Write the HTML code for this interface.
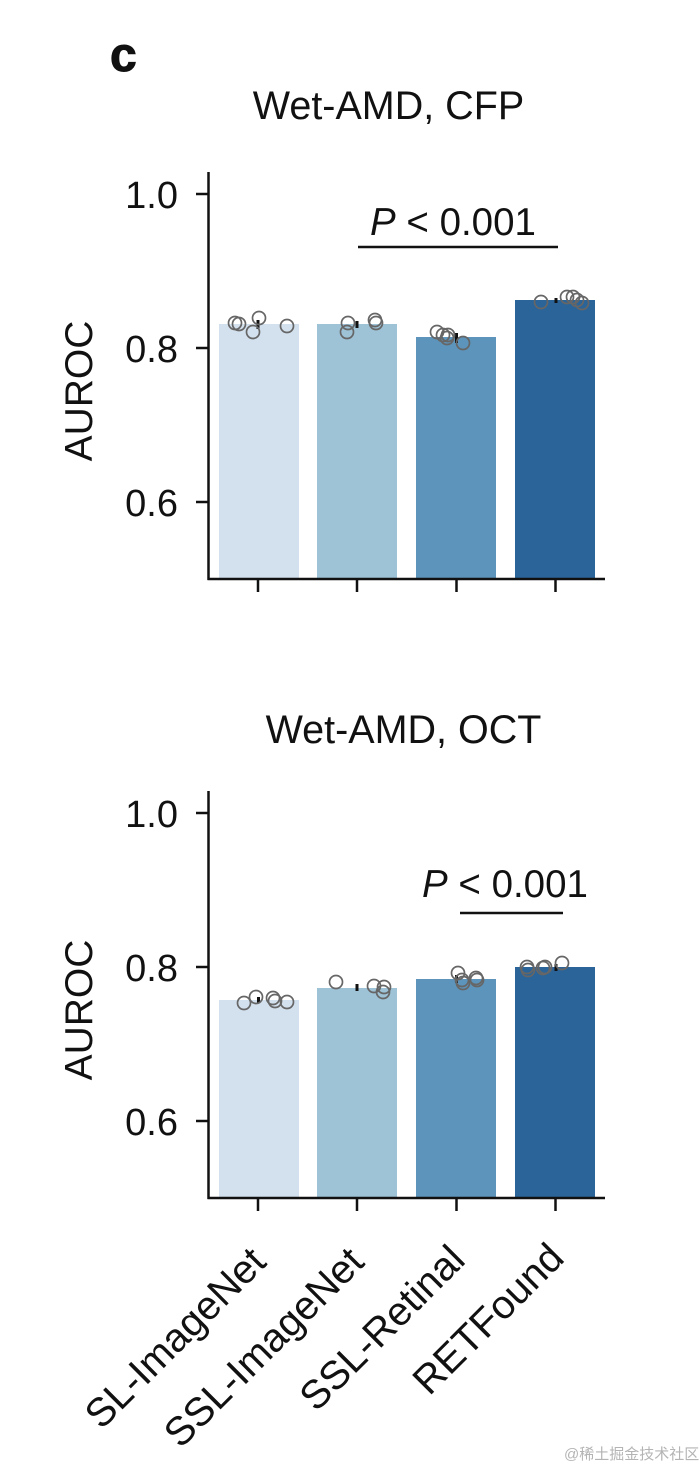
<!DOCTYPE html>
<html><head><meta charset="utf-8"><style>
html,body{margin:0;padding:0;background:#fff;}
svg{display:block;}
text{font-family:"Liberation Sans",Arial,sans-serif;fill:#111;}
</style></head><body>
<svg width="700" height="1465" viewBox="0 0 700 1465" xmlns="http://www.w3.org/2000/svg">
<rect width="700" height="1465" fill="#fff"/>
<text x="110" y="71" font-size="48" font-weight="900" style="font-weight:900;stroke:#111;stroke-width:1">c</text>

<!-- TOP CHART -->
<text x="388.5" y="119" font-size="39.5" text-anchor="middle">Wet-AMD, CFP</text>
<g fill="none">
<rect x="219" y="324" width="80" height="255" fill="#d3e1ee"/>
<rect x="317" y="324" width="80" height="255" fill="#9ec2d6"/>
<rect x="416" y="337" width="80" height="242" fill="#5d94bb"/>
<rect x="515" y="300" width="80" height="279" fill="#2a6498"/>
</g>
<g stroke="#111" stroke-width="2.5" fill="none">
<line x1="208.5" y1="172" x2="208.5" y2="580"/>
<line x1="207.5" y1="579" x2="605" y2="579"/>
<line x1="196" y1="194" x2="208" y2="194"/>
<line x1="196" y1="348" x2="208" y2="348"/>
<line x1="196" y1="502" x2="208" y2="502"/>
<line x1="258" y1="579" x2="258" y2="592"/>
<line x1="357" y1="579" x2="357" y2="592"/>
<line x1="456.5" y1="579" x2="456.5" y2="592"/>
<line x1="555.5" y1="579" x2="555.5" y2="592"/>
<line x1="358" y1="247" x2="558" y2="247"/>
</g>
<g font-size="38" text-anchor="end">
<text x="178" y="208">1.0</text>
<text x="178" y="362">0.8</text>
<text x="178" y="516">0.6</text>
</g>
<text transform="translate(92,391) rotate(-90)" font-size="39" text-anchor="middle">AUROC</text>
<text x="370" y="235" font-size="38.5"><tspan font-style="italic">P</tspan> &lt; 0.001</text>
<g fill="#111">
<rect x="256.5" y="320" width="3" height="9"/>
<rect x="355.5" y="321" width="3" height="7"/>
<rect x="455" y="333" width="3" height="10"/>
<rect x="554.5" y="298" width="3" height="5"/>
</g>
<g fill="none" stroke="#666" stroke-width="1.7">
<circle cx="235" cy="323" r="6.5"/><circle cx="239" cy="324" r="6.5"/><circle cx="253" cy="332" r="6.5"/><circle cx="259" cy="318" r="6.5"/><circle cx="287" cy="326" r="6.5"/>
<circle cx="348" cy="323" r="6.5"/><circle cx="347" cy="332" r="6.5"/><circle cx="375" cy="320" r="6.5"/><circle cx="376" cy="323" r="6.5"/>
<circle cx="437" cy="332" r="6.5"/><circle cx="443" cy="335" r="6.5"/><circle cx="447" cy="338" r="6.5"/><circle cx="448" cy="335" r="6.5"/><circle cx="463" cy="343" r="6.5"/>
<circle cx="541" cy="302" r="6.5"/><circle cx="567" cy="297" r="6.5"/><circle cx="573" cy="297" r="6.5"/><circle cx="577" cy="300" r="6.5"/><circle cx="582" cy="303" r="6.5"/>
</g>

<!-- BOTTOM CHART -->
<text x="403.5" y="743" font-size="39.5" text-anchor="middle">Wet-AMD, OCT</text>
<g>
<rect x="219" y="1000" width="80" height="198" fill="#d3e1ee"/>
<rect x="317" y="988" width="80" height="210" fill="#9ec2d6"/>
<rect x="416" y="979" width="80" height="219" fill="#5d94bb"/>
<rect x="515" y="967" width="80" height="231" fill="#2a6498"/>
</g>
<g stroke="#111" stroke-width="2.5" fill="none">
<line x1="208.5" y1="791" x2="208.5" y2="1199"/>
<line x1="207.5" y1="1198" x2="605" y2="1198"/>
<line x1="196" y1="813" x2="208" y2="813"/>
<line x1="196" y1="967" x2="208" y2="967"/>
<line x1="196" y1="1121" x2="208" y2="1121"/>
<line x1="258" y1="1198" x2="258" y2="1211"/>
<line x1="357" y1="1198" x2="357" y2="1211"/>
<line x1="456.5" y1="1198" x2="456.5" y2="1211"/>
<line x1="555.5" y1="1198" x2="555.5" y2="1211"/>
<line x1="460" y1="913" x2="563" y2="913"/>
</g>
<g font-size="38" text-anchor="end">
<text x="178" y="827">1.0</text>
<text x="178" y="981">0.8</text>
<text x="178" y="1135">0.6</text>
</g>
<text transform="translate(92,1010) rotate(-90)" font-size="39" text-anchor="middle">AUROC</text>
<text x="422" y="897" font-size="38.5"><tspan font-style="italic">P</tspan> &lt; 0.001</text>
<g fill="#111">
<rect x="257" y="997" width="3" height="6"/>
<rect x="355.5" y="984" width="3" height="7"/>
<rect x="455" y="975" width="3" height="8"/>
<rect x="554.5" y="964" width="3" height="7"/>
</g>
<g fill="none" stroke="#666" stroke-width="1.7">
<circle cx="244" cy="1003" r="6.5"/><circle cx="256" cy="997" r="6.5"/><circle cx="273" cy="998" r="6.5"/><circle cx="275" cy="1001" r="6.5"/><circle cx="287" cy="1002" r="6.5"/>
<circle cx="336" cy="982" r="6.5"/><circle cx="374" cy="986" r="6.5"/><circle cx="384" cy="987" r="6.5"/><circle cx="383" cy="992" r="6.5"/>
<circle cx="458" cy="973" r="6.5"/><circle cx="462" cy="980" r="6.5"/><circle cx="463" cy="983" r="6.5"/><circle cx="476" cy="978" r="6.5"/><circle cx="477" cy="980" r="6.5"/>
<circle cx="527" cy="967" r="6.5"/><circle cx="528" cy="970" r="6.5"/><circle cx="543" cy="968" r="6.5"/><circle cx="545" cy="967" r="6.5"/><circle cx="562" cy="963" r="6.5"/>
</g>

<!-- X labels -->
<g font-size="40" text-anchor="end">
<text transform="translate(268,1264) rotate(-45)">SL-ImageNet</text>
<text transform="translate(366,1264) rotate(-45)">SSL-ImageNet</text>
<text transform="translate(467,1262) rotate(-45)">SSL-Retinal</text>
<text transform="translate(566,1260) rotate(-45)">RETFound</text>
</g>

<text x="564" y="1459" font-size="15" style="font-family:'Liberation Sans','Noto Sans CJK SC',sans-serif;fill:#b4b4b4">@稀土掘金技术社区</text>
</svg>
</body></html>
